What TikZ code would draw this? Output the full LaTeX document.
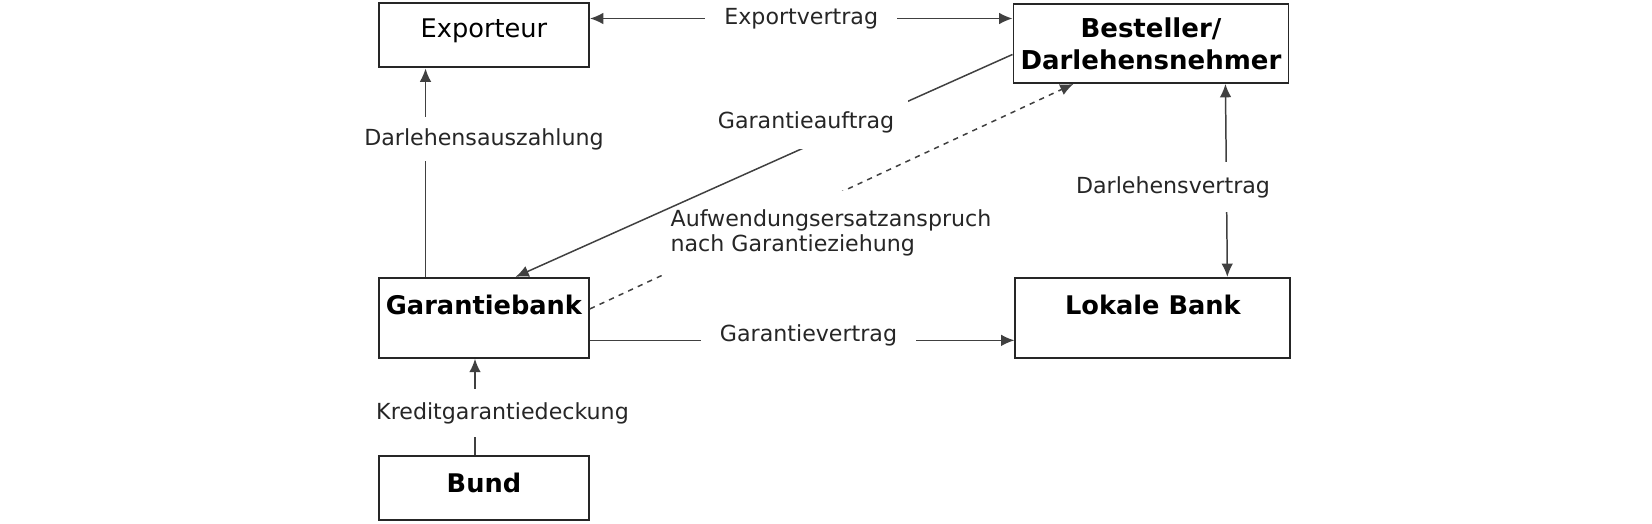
\documentclass[tikz,border=0pt]{standalone}
\usepackage{fontspec}
\setmainfont{DejaVu Sans}
\usetikzlibrary{positioning,arrows.meta}

\begin{document}
\begin{tikzpicture}[>={Latex[length=7.6pt,width=6.6pt]},
box/.style={draw=black!85,line width=1.1pt,minimum width=4.2cm,inner ysep=0pt,
 text height=0.73cm,text depth=#1,font=\fontsize{14.6}{18.2}\selectfont},
bbox/.style={box=#1,font=\fontsize{14.6}{18.2}\selectfont\bfseries},
hbox/.style={draw=black!85,line width=1.1pt,minimum width=5.5cm,minimum height=1.58cm,
 inner sep=0pt,align=center,font=\fontsize{14.8}{18.2}\selectfont\bfseries},
link/.style={draw=black!75,line width=0.85pt},
lbl/.style={fill=white,text=black!85,inner xsep=0.38cm,inner ysep=0.28cm,
 font=\fontsize{12.6}{14.4}\selectfont}]
 \useasboundingbox (0,0) rectangle (33.04,-10.48);
 \node[box=0.6cm,anchor=north west,text height=0.69cm] (exp) at (7.56,-0.04) {Exporteur};
 \node[hbox,anchor=north west] (best) at (20.25,-0.06) {Besteller/\\Darlehensnehmer};
 \node[bbox=0.87cm,below=4.17cm of exp] (gb) {Garantiebank};
 \node[bbox=0.87cm,minimum width=5.5cm,right=8.49cm of gb] (lok) {Lokale Bank};
 \node[bbox=0.56cm,below=1.92cm of gb] (bund) {Bund};
 \coordinate (ev) at ([yshift=-0.33cm]exp.north east);
 \coordinate (gv) at ([yshift=0.37cm]gb.south east);
 \draw[link,<->] (ev) -- (ev -| best.west) node[lbl,midway] {Exportvertrag};
 \draw[link,<-] ([xshift=0.95cm]exp.south west) -- ([xshift=0.95cm]gb.north west);
 \draw[link,->,dashed] ([yshift=0.18cm]gb.east) -- ([xshift=1.22cm]best.south west);
 \node[lbl,align=left,inner xsep=0.32cm,inner ysep=0.38cm] (aufw) at (16.62,-4.66)
 {Aufwendungsersatzanspruch\\nach Garantieziehung};
 \draw[link,->] ([yshift=-0.22cm]best.west) -- ([xshift=0.63cm]gb.north);
 \draw[link,->] (gv) -- (gv -| lok.west) node[lbl,pos=0.515,yshift=0.1cm] {Garantievertrag};
 \draw[link,<->] ([xshift=-1.28cm]best.south east) -- ([xshift=-1.28cm]lok.north east);
 \draw[link,->] ([xshift=1.94cm]bund.north west) -- ([xshift=1.94cm]gb.south west);
 \node[lbl,inner ysep=0.23cm] (dazl) at ([yshift=-1.41cm]exp.south) {Darlehensauszahlung};
 \node[lbl,inner xsep=0.28cm,inner ysep=0.32cm] (gauf) at (16.12,-2.44) {Garantieauftrag};
 \node[lbl,inner ysep=0.29cm] (dvtr) at (23.46,-3.74) {Darlehensvertrag};
 \node[lbl,inner ysep=0.27cm] (kgd) at (10.05,-8.26) {Kreditgarantiedeckung};
\end{tikzpicture}
\end{document}
